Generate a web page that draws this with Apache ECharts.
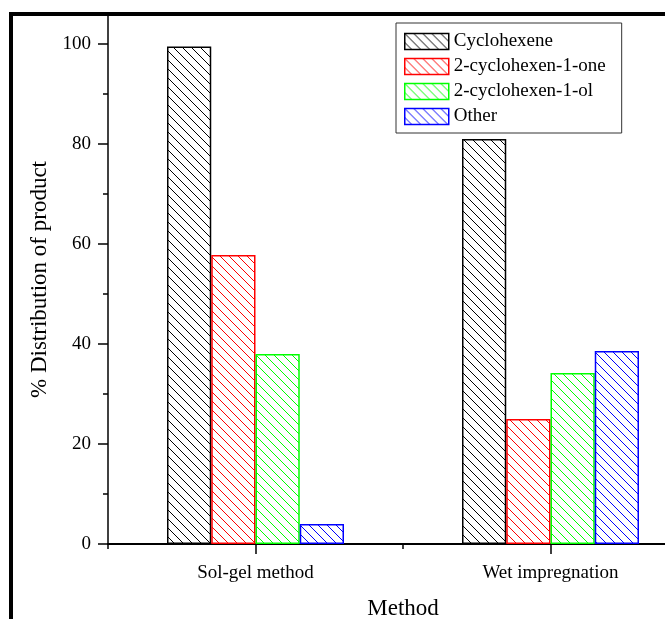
<!DOCTYPE html>
<html>
<head>
<meta charset="utf-8">
<script src="https://cdn.jsdelivr.net/npm/echarts@6/dist/echarts.min.js"></script>
<style>
  html, body { margin: 0; padding: 0; background: #fff; overflow: hidden; }
  #wrap { width: 665px; height: 619px; overflow: hidden; position: relative; }
  #chart { width: 720px; height: 619px; }
</style>
</head>
<body>
<div id="wrap"><div id="chart"></div></div>
<script>
const methods = ["Sol-gel method", "Wet impregnation"];
const seriesNames = ["Cyclohexene", "2-cyclohexen-1-one", "2-cyclohexen-1-ol", "Other"];
const seriesColors = ["#000000", "#ff0000", "#00ff00", "#0000ff"];
const cyclohexene = [99.5, 81.0];
const cyclohexenone = [57.8, 25.0];
const cyclohexenol = [38.0, 34.2];
const other = [4.0, 38.6];
const majorTicks = [0, 20, 40, 60, 80, 100];
const minorTicks = [10, 30, 50, 70, 90];

const values = [cyclohexene, cyclohexenone, cyclohexenol, other];
const font = "Liberation Serif";

// hatch fill: "\" diagonal lines in the series colour
function hatch(color) {
    const s = 9;
    const c = document.createElement("canvas");
    c.width = s;
    c.height = s;
    const ctx = c.getContext("2d");
    ctx.fillStyle = "#fff";
    ctx.fillRect(0, 0, s, s);
    ctx.strokeStyle = color;
    ctx.lineWidth = 1;
    for (let k = -1; k <= 1; k++) {
        ctx.beginPath();
        ctx.moveTo(k * s - 1, -1);
        ctx.lineTo(k * s + s + 1, s + 1);
        ctx.stroke();
    }
    return { image: c, repeat: "repeat" };
}

const myChart = echarts.init(document.getElementById("chart"));

const option = {
    animation: false,
    backgroundColor: "#fff",
    textStyle: { fontFamily: font },
    // plot runs past the right edge of the picture, like the cropped original
    grid: { left: 108, top: 15, width: 590, height: 529, outerBoundsMode: "none" },
    legend: {
        orient: "vertical",
        left: 396,
        top: 23,
        padding: [9, 16, 7, 8],
        itemWidth: 44,
        itemHeight: 16,
        itemGap: 6,
        borderColor: "#333",
        borderWidth: 1,
        icon: "rect",
        itemStyle: { borderWidth: 1.5 },
        textStyle: { fontFamily: font, fontSize: 19, color: "#000" },
        data: seriesNames
    },
    xAxis: [
        {
            type: "category",
            data: methods,
            name: "Method",
            nameLocation: "middle",
            nameGap: 53,
            nameTextStyle: { fontFamily: font, fontSize: 23, color: "#000" },
            axisLine: { lineStyle: { color: "#000", width: 2 } },
            axisTick: { show: true, alignWithLabel: true, length: 10, lineStyle: { color: "#000", width: 1.5 } },
            axisLabel: { fontFamily: font, fontSize: 19, color: "#000", margin: 20 }
        },
        {
            type: "category",
            data: methods,
            position: "bottom",
            axisLine: { show: false },
            axisTick: { show: true, length: 5, lineStyle: { color: "#000", width: 1.5 } },
            axisLabel: { show: false }
        }
    ],
    yAxis: [
        {
            type: "value",
            min: 0,
            max: 105.8,
            name: "% Distribution of product",
            nameLocation: "middle",
            nameGap: 54,
            nameTextStyle: { fontFamily: font, fontSize: 23, color: "#000" },
            axisLine: { show: true, lineStyle: { color: "#000", width: 1.5 } },
            axisTick: { show: true, customValues: majorTicks, length: 10, lineStyle: { color: "#000", width: 1.5 } },
            axisLabel: { customValues: majorTicks, fontFamily: font, fontSize: 19, color: "#000", margin: 17 },
            splitLine: { show: false }
        },
        {
            type: "value",
            min: 0,
            max: 105.8,
            position: "left",
            axisLine: { show: false },
            axisTick: { show: true, customValues: minorTicks, length: 5, lineStyle: { color: "#000", width: 1.5 } },
            axisLabel: { show: false },
            splitLine: { show: false }
        }
    ],
    series: seriesNames.map((name, i) => ({
        name: name,
        type: "bar",
        data: values[i],
        barGap: "0%",
        barCategoryGap: "40%",
        itemStyle: {
            color: hatch(seriesColors[i]),
            borderColor: seriesColors[i],
            borderWidth: 1.5
        }
    })),
    graphic: [
        { type: "rect", z: 100, shape: { x: 9, y: 12, width: 4, height: 607 }, style: { fill: "#000" } },
        { type: "rect", z: 100, shape: { x: 9, y: 12, width: 711, height: 4 }, style: { fill: "#000" } }
    ]
};

myChart.setOption(option);
</script>
</body>
</html>
